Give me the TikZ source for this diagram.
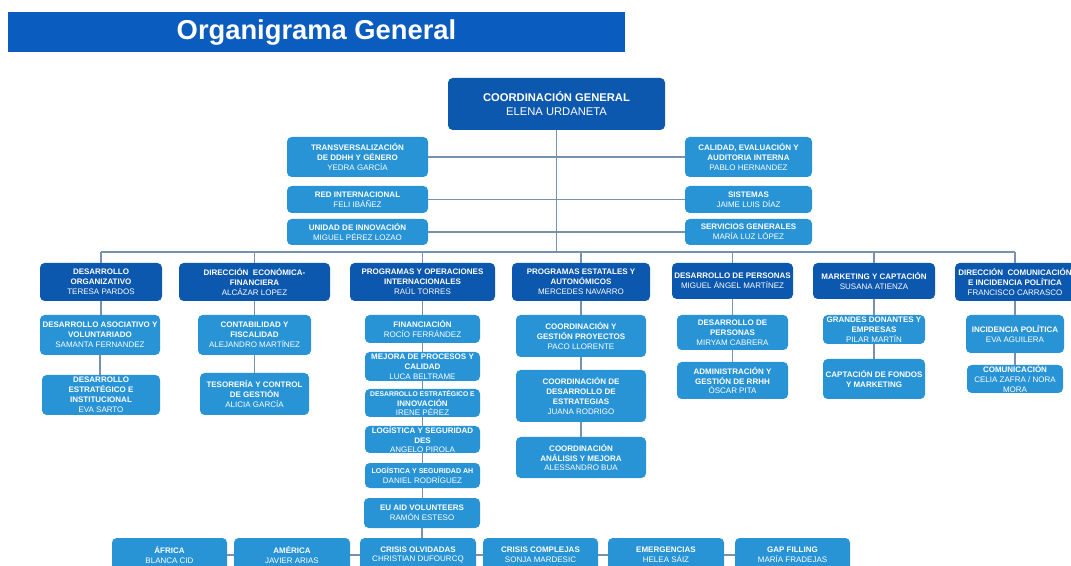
\documentclass[tikz,border=0pt]{standalone}
\usepackage{fontspec}
\setmainfont{Liberation Sans}
\usepackage{tikz}

\definecolor{ctitle}{RGB}{10,92,190}
\definecolor{cdark}{RGB}{12,88,175}
\definecolor{clight}{RGB}{40,148,214}
\definecolor{cline}{RGB}{118,146,174}
\newcommand{\boxhead}[1]{\textbf{#1}}

\begin{document}
\begin{tikzpicture}[x=0.75pt,y=-0.75pt,
	span/.style args={#1/#2/#3/#4}{at={({(#1+#3)/2},{(#2+#4)/2})}, minimum width={(#3-#1)*0.75pt}, minimum height={(#4-#2)*0.75pt}},
	hbox/.style={fill=cdark, rounded corners=3.5pt, text=white, align=center, inner sep=0pt, font=\fontsize{6}{7.4}\selectfont},
	sbox/.style={hbox, fill=clight},
	link/.style={draw=cline, line width=1.2pt}]
	%\draw[help lines] (0,0) grid[step=50] (1071,566);
	\useasboundingbox (0,0) rectangle (1071,566);
	\clip (0,0) rectangle (1071,566);
	\fill[white] (0,0) rectangle (1071,566);
	\node[fill=ctitle, text=white, inner sep=0pt, font=\fontsize{20.5}{24}\bfseries, span=8/12/625/52] (title) {Organigrama General};

	\node[hbox, font=\fontsize{8.4}{10.5}\selectfont, span=448/78/665/130] (cg) {\boxhead{COORDINACIÓN GENERAL}\\ELENA URDANETA};
	\node[sbox, span=287/137/428/177] (tdh) {\boxhead{TRANSVERSALIZACIÓN}\\\boxhead{DE DDHH Y GÉNERO}\\YEDRA GARCÍA};
	\node[sbox, span=287/186/428/213] (red) {\boxhead{RED INTERNACIONAL}\\FELI IBÁÑEZ};
	\node[sbox, span=287/219/428/245] (uin) {\boxhead{UNIDAD DE INNOVACIÓN}\\MIGUEL PÉREZ LOZAO};
	\node[sbox, span=685/137/812/177] (cal) {\boxhead{CALIDAD, EVALUACIÓN Y}\\\boxhead{AUDITORIA INTERNA}\\PABLO HERNANDEZ};
	\node[sbox, span=685/186/812/213] (sis) {\boxhead{SISTEMAS}\\JAIME LUIS DÍAZ};
	\node[sbox, span=685/219/812/245] (sge) {\boxhead{SERVICIOS GENERALES}\\MARÍA LUZ LÓPEZ};
	\coordinate (trunk) at (556.5,252);

	% direcciones
	\node[hbox, span=40/263/162/301] (do) {\boxhead{DESARROLLO}\\\boxhead{ORGANIZATIVO}\\TERESA PARDOS};
	\node[hbox, span=179/263/330/301] (def) {\boxhead{DIRECCIÓN\ \ ECONÓMICA-}\\\boxhead{FINANCIERA}\\ALCÁZAR LOPEZ};
	\node[hbox, span=350/263/495/301] (poi) {\boxhead{PROGRAMAS Y OPERACIONES}\\\boxhead{INTERNACIONALES}\\RAÚL TORRES};
	\node[hbox, span=512/263/650/301] (pea) {\boxhead{PROGRAMAS ESTATALES Y}\\\boxhead{AUTONÓMICOS}\\MERCEDES NAVARRO};
	\node[hbox, span=672/263/793/299] (dpe) {\boxhead{DESARROLLO DE PERSONAS}\\MIGUEL ÁNGEL MARTÍNEZ};
	\node[hbox, span=813/263/935/299] (mkt) {\boxhead{MARKETING Y CAPTACIÓN}\\SUSANA ATIENZA};
	\node[hbox, span=955/263/1075/301] (dci) {\boxhead{DIRECCIÓN\ \ COMUNICACIÓN}\\\boxhead{E INCIDENCIA POLÍTICA}\\FRANCISCO CARRASCO};

	\node[sbox, span=40/315/160/355] (dav) {\boxhead{DESARROLLO ASOCIATIVO Y}\\\boxhead{VOLUNTARIADO}\\SAMANTA FERNANDEZ};
	\node[sbox, span=42/375/160/415] (dei) {\boxhead{DESARROLLO}\\\boxhead{ESTRATÉGICO E}\\\boxhead{INSTITUCIONAL}\\EVA SARTO};
	\node[sbox, span=198/315/311/355] (cfi) {\boxhead{CONTABILIDAD Y}\\\boxhead{FISCALIDAD}\\ALEJANDRO MARTÍNEZ};
	\node[sbox, span=200/373/309/415] (tcg) {\boxhead{TESORERÍA Y CONTROL}\\\boxhead{DE GESTIÓN}\\ALICIA GARCÍA};

	\node[sbox, span=365/315/480/343] (fin) {\boxhead{FINANCIACIÓN}\\ROCÍO FERRÁNDEZ};
	\node[sbox, span=365/352/480/381] (mpc) {\boxhead{MEJORA DE PROCESOS Y}\\\boxhead{CALIDAD}\\LUCA BELTRAME};
	\node[sbox, span=365/389/480/417] (dinn) {{\fontsize{5.1}{6.7}\selectfont\boxhead{DESARROLLO ESTRATÉGICO E}}\\\boxhead{INNOVACIÓN}\\IRENE PÉREZ};
	\node[sbox, span=365/426/480/453] (lsd) {\boxhead{LOGÍSTICA Y SEGURIDAD}\\\boxhead{DES}\\ANGELO PIROLA};
	\node[sbox, span=365/463/480/488] (lsa) {{\fontsize{5.3}{7}\selectfont\boxhead{LOGÍSTICA Y SEGURIDAD AH}}\\DANIEL RODRÍGUEZ};
	\node[sbox, span=364/498/480/528] (eu) {\boxhead{EU AID VOLUNTEERS}\\RAMÓN ESTESO};

	\node[sbox, span=516/315/646/357] (cgp) {\boxhead{COORDINACIÓN Y}\\\boxhead{GESTIÓN PROYECTOS}\\PACO LLORENTE};
	\node[sbox, span=516/370/646/422] (cde) {\boxhead{COORDINACIÓN DE}\\\boxhead{DESARROLLO DE}\\\boxhead{ESTRATEGIAS}\\JUANA RODRIGO};
	\node[sbox, span=516/437/646/478] (cam) {\boxhead{COORDINACIÓN}\\\boxhead{ANÁLISIS Y MEJORA}\\ALESSANDRO BUA};

	\node[sbox, span=677/315/788/350] (dps) {\boxhead{DESARROLLO DE}\\\boxhead{PERSONAS}\\MIRYAM CABRERA};
	\node[sbox, span=677/362/788/399] (agr) {\boxhead{ADMINISTRACIÓN Y}\\\boxhead{GESTIÓN DE RRHH}\\ÓSCAR PITA};
	\node[sbox, span=823/315/925/344] (gde) {\boxhead{GRANDES DONANTES Y}\\\boxhead{EMPRESAS}\\PILAR MARTÍN};
	\node[sbox, span=823/359/925/399] (cfm) {\boxhead{CAPTACIÓN DE FONDOS}\\\boxhead{Y MARKETING}};
	\node[sbox, span=966/315/1064/353] (ipo) {\boxhead{INCIDENCIA POLÍTICA}\\EVA AGUILERA};
	\node[sbox, span=967/365/1063/393] (com) {\boxhead{COMUNICACIÓN}\\CELIA ZAFRA / NORA\\MORA};

	% fila inferior
	\node[sbox, span=112/538/227/572] (afr) {\boxhead{ÁFRICA}\\BLANCA CID};
	\node[sbox, span=234/538/350/572] (ame) {\boxhead{AMÉRICA}\\JAVIER ARIAS};
	\node[sbox, span=360/538/476/572] (cro) {\boxhead{CRISIS OLVIDADAS}\\CHRISTIAN DUFOURCQ};
	\node[sbox, span=483/538/598/572] (ccm) {\boxhead{CRISIS COMPLEJAS}\\SONJA MARDESIC};
	\node[sbox, span=608/538/724/572] (eme) {\boxhead{EMERGENCIAS}\\HELEA SÁIZ};
	\node[sbox, span=735/538/850/572] (gap) {\boxhead{GAP FILLING}\\MARÍA FRADEJAS};

	\draw[link] (cg.south) -- (trunk);
	\draw[link] (tdh) -- (cal);
	\draw[link] (red) -- (sis);
	\draw[link] (uin) -- (sge);
	\draw[link] (do.north |- trunk) -- (dci.north |- trunk);
	\foreach \n in {do,def,poi,pea,dpe,mkt,dci}
		\draw[link] (\n.north) -- (\n.north |- trunk);
	\foreach \a/\b in {do/dav, dav/dei, def/cfi, cfi/tcg, poi/fin, fin/mpc, mpc/dinn, dinn/lsd, lsd/lsa, lsa/eu, eu/cro, pea/cgp, cgp/cde, cde/cam, dpe/dps, dps/agr, mkt/gde, gde/cfm, dci/ipo, ipo/com}
		\draw[link] (\a.south) -- (\a.south |- \b.north);
	\foreach \a/\b in {afr/ame, ame/cro, cro/ccm, ccm/eme, eme/gap}
		\draw[link] (\a.east) -- (\b.west);
\end{tikzpicture}
\end{document}
